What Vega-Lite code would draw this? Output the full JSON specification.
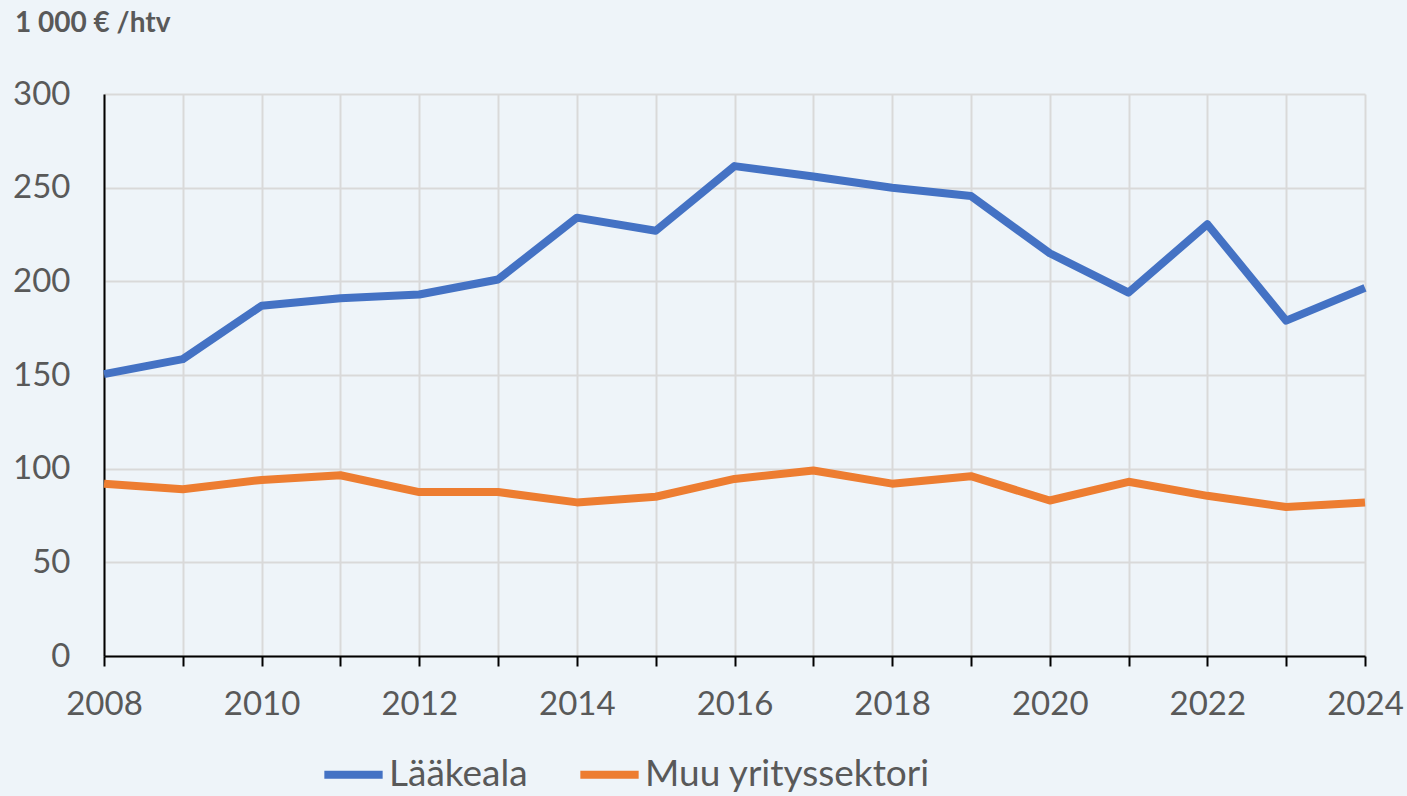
{
  "$schema": "https://vega.github.io/schema/vega-lite/v6.json",
  "width": 1261,
  "height": 562,
  "autosize": {"type": "none"},
  "padding": {"left": 104, "top": 94, "right": 42, "bottom": 140},
  "background": "#EEF4F9",
  "title": {"text": "1 000 € /htv", "anchor": "start", "frame": "group", "dx": -89, "offset": 40, "fontSize": 28, "fontWeight": "bold", "color": "#595959", "font": "Lato"},
  "config": {
    "view": {"stroke": null},
    "font": "Lato",
    "axis": {"labelFont": "Lato", "labelColor": "#595959", "labelFontSize": 33, "gridColor": "#D9D9D9", "gridWidth": 2, "gridOpacity": 1, "title": null}
  },
  "data": {"values": [
    {"year": 2008, "series": "Lääkeala", "value": 150.5},
    {"year": 2009, "series": "Lääkeala", "value": 158.5},
    {"year": 2010, "series": "Lääkeala", "value": 187},
    {"year": 2011, "series": "Lääkeala", "value": 191},
    {"year": 2012, "series": "Lääkeala", "value": 193},
    {"year": 2013, "series": "Lääkeala", "value": 201},
    {"year": 2014, "series": "Lääkeala", "value": 234},
    {"year": 2015, "series": "Lääkeala", "value": 227},
    {"year": 2016, "series": "Lääkeala", "value": 261.5},
    {"year": 2017, "series": "Lääkeala", "value": 256},
    {"year": 2018, "series": "Lääkeala", "value": 250},
    {"year": 2019, "series": "Lääkeala", "value": 245.5},
    {"year": 2020, "series": "Lääkeala", "value": 215},
    {"year": 2021, "series": "Lääkeala", "value": 194},
    {"year": 2022, "series": "Lääkeala", "value": 230.5},
    {"year": 2023, "series": "Lääkeala", "value": 179},
    {"year": 2024, "series": "Lääkeala", "value": 196.5},
    {"year": 2008, "series": "Muu yrityssektori", "value": 92},
    {"year": 2009, "series": "Muu yrityssektori", "value": 89},
    {"year": 2010, "series": "Muu yrityssektori", "value": 94},
    {"year": 2011, "series": "Muu yrityssektori", "value": 96.5},
    {"year": 2012, "series": "Muu yrityssektori", "value": 87.5},
    {"year": 2013, "series": "Muu yrityssektori", "value": 87.5},
    {"year": 2014, "series": "Muu yrityssektori", "value": 82},
    {"year": 2015, "series": "Muu yrityssektori", "value": 85},
    {"year": 2016, "series": "Muu yrityssektori", "value": 94.5},
    {"year": 2017, "series": "Muu yrityssektori", "value": 99},
    {"year": 2018, "series": "Muu yrityssektori", "value": 92},
    {"year": 2019, "series": "Muu yrityssektori", "value": 96},
    {"year": 2020, "series": "Muu yrityssektori", "value": 83},
    {"year": 2021, "series": "Muu yrityssektori", "value": 93},
    {"year": 2022, "series": "Muu yrityssektori", "value": 85.5},
    {"year": 2023, "series": "Muu yrityssektori", "value": 79.5},
    {"year": 2024, "series": "Muu yrityssektori", "value": 82}
  ]},
  "mark": {"type": "line", "strokeWidth": 8, "strokeJoin": "round", "strokeCap": "butt"},
  "encoding": {
    "x": {"field": "year", "type": "quantitative", "scale": {"domain": [2008, 2024], "nice": false, "zero": false},
      "axis": {"values": [2008,2009,2010,2011,2012,2013,2014,2015,2016,2017,2018,2019,2020,2021,2022,2023,2024],
        "labelExpr": "datum.value % 2 == 0 ? format(datum.value, 'd') : ''", "domainColor": "#000000", "domainWidth": 2, "tickColor": "#000000", "tickWidth": 2, "tickSize": 10, "labelPadding": 22, "labelFlush": false, "labelOverlap": false}},
    "y": {"field": "value", "type": "quantitative", "scale": {"domain": [0, 300], "nice": false},
      "axis": {"values": [0, 50, 100, 150, 200, 250, 300], "domainColor": "#000000", "domainWidth": 2, "ticks": false, "labelPadding": 34}},
    "color": {"field": "series", "type": "nominal", "scale": {"domain": ["Lääkeala", "Muu yrityssektori"], "range": ["#4472C4", "#ED7D31"]},
      "legend": {"title": null, "orient": "none", "legendX": 216, "legendY": 647, "direction": "horizontal", "symbolType": "stroke", "symbolStrokeWidth": 8, "symbolSize": 3400, "labelFontSize": 37, "labelColor": "#595959", "labelFont": "Lato", "labelOffset": 2, "labelLimit": 0, "columnPadding": 36, "padding": 0}}
  }
}
